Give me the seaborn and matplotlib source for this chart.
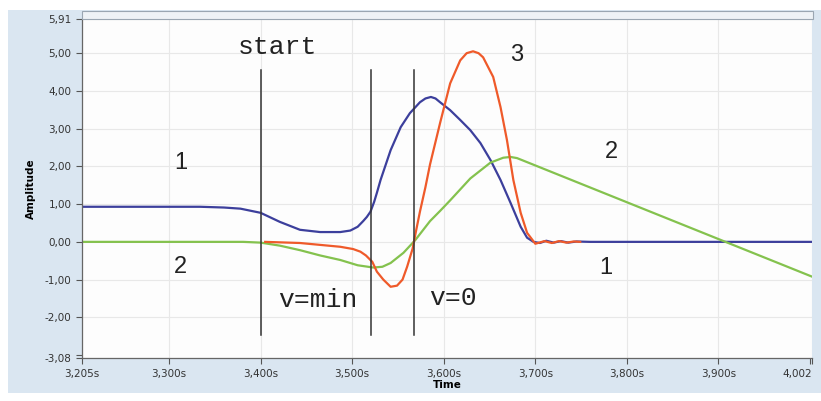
import pandas as pd
import matplotlib.pyplot as plt
import seaborn as sns
from matplotlib.patches import Rectangle

# Curve 1 (blue)
t_blue = [3.205, 3.300, 3.334, 3.360, 3.378, 3.400, 3.421, 3.443, 3.465, 3.487,
          3.498, 3.506, 3.512, 3.516, 3.520, 3.522, 3.524, 3.527, 3.531, 3.542,
          3.553, 3.563, 3.574, 3.580, 3.586, 3.591, 3.596, 3.607, 3.618, 3.629,
          3.640, 3.651, 3.662, 3.673, 3.684, 3.691, 3.698, 3.705, 3.712, 3.720,
          3.728, 3.736, 3.745, 3.760, 4.002]
v_blue = [0.93, 0.93, 0.93, 0.91, 0.88, 0.77, 0.53, 0.32, 0.26, 0.26,
          0.30, 0.40, 0.55, 0.66, 0.80, 0.93, 1.06, 1.30, 1.64, 2.43,
          3.04, 3.41, 3.70, 3.80, 3.84, 3.80, 3.70, 3.49, 3.23, 2.96,
          2.62, 2.17, 1.64, 1.03, 0.40, 0.11, 0.00, -0.03, 0.03, -0.02,
          0.02, -0.02, 0.01, 0.00, 0.00]

# Curve 3 (orange)
t_orange = [3.405, 3.443, 3.487, 3.501, 3.509, 3.515, 3.522, 3.527, 3.534, 3.542,
            3.549, 3.555, 3.560, 3.566, 3.569, 3.574, 3.580, 3.585, 3.596, 3.607,
            3.618, 3.625, 3.632, 3.638, 3.643, 3.654, 3.662, 3.669, 3.676, 3.684,
            3.691, 3.700, 3.710, 3.718, 3.726, 3.734, 3.742, 3.749]
v_orange = [0.00, -0.03, -0.13, -0.19, -0.26, -0.36, -0.53, -0.79, -1.00, -1.19,
            -1.16, -1.00, -0.66, -0.18, 0.20, 0.80, 1.45, 2.05, 3.15, 4.20,
            4.81, 5.00, 5.05, 5.00, 4.89, 4.37, 3.57, 2.70, 1.64, 0.77,
            0.24, -0.05, 0.02, -0.03, 0.02, -0.02, 0.01, 0.00]

# Curve 2 (green)
t_green = [3.205, 3.381, 3.400, 3.421, 3.443, 3.465, 3.487, 3.506, 3.523, 3.533,
           3.542, 3.556, 3.569, 3.585, 3.596, 3.607, 3.629, 3.651, 3.665, 3.673,
           3.680, 4.002]
v_green = [0.00, 0.00, -0.02, -0.10, -0.22, -0.36, -0.48, -0.62, -0.68, -0.66,
           -0.56, -0.29, 0.05, 0.55, 0.82, 1.10, 1.68, 2.10, 2.23, 2.25,
           2.22, -0.92]

# marker lines and labels
marker_t = [3.400, 3.521, 3.568]
marker_lo, marker_hi = -2.46, 4.55
y_ticks = [5.91, 5, 4, 3, 2, 1, 0, -1, -2, -3.08]
x_ticks = [3.205, 3.3, 3.4, 3.5, 3.6, 3.7, 3.8, 3.9, 4.002]

fig = plt.figure(figsize=(8.21, 4.01), dpi=100)
fig.patch.set_facecolor("white")
bg = Rectangle((0.01, 0.02), 0.99, 0.955, transform=fig.transFigure,
               facecolor="#dae6f1", edgecolor="none", zorder=-5)
fig.add_artist(bg)
ax = fig.add_axes([0.0999, 0.107, 0.889, 0.846])
ax.set_zorder(2)
ax.set_facecolor("#fdfdfd")

sns.lineplot(x=t_blue, y=v_blue, ax=ax, color="#3c3f9c", lw=1.6)
sns.lineplot(x=t_green, y=v_green, ax=ax, color="#84c24e", lw=1.6)
sns.lineplot(x=t_orange, y=v_orange, ax=ax, color="#ef5a2a", lw=1.6)

for t in marker_t:
    ax.plot([t, t], [marker_lo, marker_hi], color="#333333", lw=1.1)

mono = dict(family="Liberation Mono", fontsize=19, ha="center", va="center", color="#222222")
ax.text(3.418, 5.16, "start", **mono)
ax.text(3.463, -1.53, "v=min", **mono)
ax.text(3.610, -1.48, "v=0", **mono)

sans = dict(family="Liberation Sans", fontsize=17, ha="center", va="center", color="#222222")
ax.text(3.313, 2.09, "1", **sans)
ax.text(3.313, -0.66, "2", **sans)
ax.text(3.680, 4.95, "3", **sans)
ax.text(3.783, 2.38, "2", **sans)
ax.text(3.777, -0.69, "1", **sans)

ax.set_xlim(3.205, 4.002)
ax.set_ylim(-3.08, 5.91)
ax.set_yticks(y_ticks)
ax.set_yticklabels([f"{v:.2f}".replace(".", ",") for v in y_ticks])
ax.set_xticks(x_ticks)
xlabels = [f"{v:.3f}".replace(".", ",") + "s" for v in x_ticks]
xlabels[-1] = "4,002"
ax.set_xticklabels(xlabels)
ax.get_xticklabels()[-1].set_horizontalalignment("right")
ax.set_yticks([-3.0], minor=True)
ax.set_xticks([4.0], minor=True)
ax.tick_params(which="both", direction="out", length=4, width=0.8, color="#555555",
               labelsize=7.5, labelcolor="#333333")
ax.grid(True, color="#e8e8e8", lw=0.8)
ax.set_axisbelow(True)
for s in ["top", "right"]:
    ax.spines[s].set_visible(False)
for s in ["left", "bottom"]:
    ax.spines[s].set_color("#666666")
    ax.spines[s].set_linewidth(0.9)

ax.set_xlabel("Time", fontsize=7.5, fontweight="bold", labelpad=1)
ax.set_ylabel("Amplitude", fontsize=7.5, fontweight="bold", labelpad=6)

# top frame strip
strip = Rectangle((0.1, 0.953), 0.89, 0.02, transform=fig.transFigure,
                  facecolor="#eef2f6", edgecolor="#9aa6b2", lw=0.8, zorder=3)
fig.add_artist(strip)

fig.savefig("out.png", dpi=100)
